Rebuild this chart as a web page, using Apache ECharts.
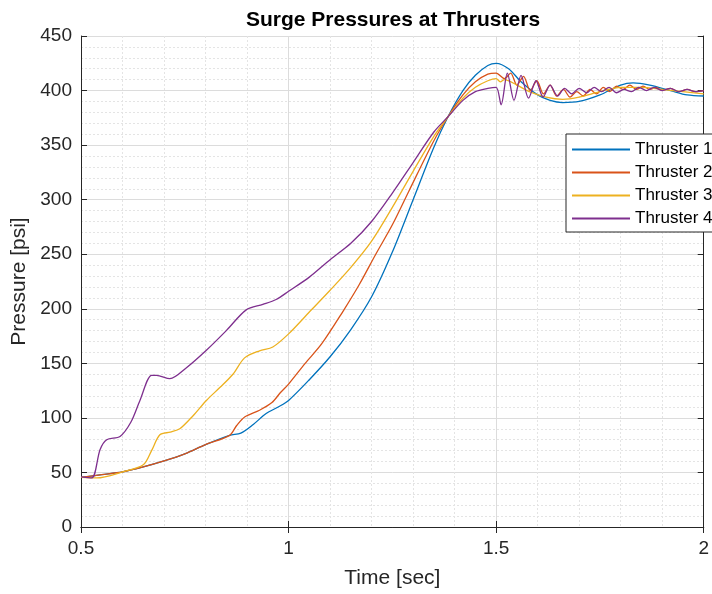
<!DOCTYPE html>
<html><head><meta charset="utf-8">
<script src="https://cdn.jsdelivr.net/npm/echarts@6/dist/echarts.min.js"></script>
<style>html,body{margin:0;padding:0;background:#fff}#c{width:712px;height:594px}</style>
</head><body><div id="c"></div>
<script>
const seriesNames = ['Thruster 1','Thruster 2','Thruster 3','Thruster 4'];
const xTickValues = [0.5, 1, 1.5, 2];
const yTickValues = [0, 50, 100, 150, 200, 250, 300, 350, 400, 450];

const t1 = [0.50,0.55,0.60,0.65,0.70,0.75,0.80,0.858,0.885,0.915,0.946,0.975,1.00,1.05,1.10,1.15,1.20,1.25,1.30,1.35,1.384,1.42,1.45,1.48,1.50,1.53,1.56,1.60,1.63,1.66,1.70,1.75,1.80,1.83,1.87,1.92,1.96,2.00];
const p1 = [45.5,48,50.5,55,60.5,67,75.5,84,86,94,104,110,116,135,156,181,211,252,300,348,376,400,414,423,425,420,408,396,391,389,390,396,405,407,405,400,396,395];

const t2 = [0.50,0.55,0.60,0.65,0.70,0.75,0.80,0.858,0.875,0.895,0.93,0.96,0.98,1.00,1.04,1.08,1.13,1.17,1.21,1.25,1.29,1.35,1.384,1.42,1.45,1.48,1.50,1.52,1.535,1.55,1.566,1.582,1.598,1.614,1.63,1.646,1.662,1.678,1.694,1.71,1.726,1.742,1.758,1.774,1.79,1.806,1.822,1.838,1.854,1.87,1.886,1.90,1.92,1.94,1.96,1.98,2.00];
const p2 = [45.5,48,50.5,55,60.5,67,75.5,84,93,101,107,114,123,131,150,168,197,222,250,277,308,354,376,396,408,415,416,411,416,405,413,400,409,397,405,395,401,394,399,395,401,397,403,399,404,401,405,401,404,401,403,400,402,399,401,399,400];

const t3 = [0.50,0.538,0.60,0.65,0.67,0.69,0.715,0.738,0.77,0.802,0.835,0.866,0.894,0.93,0.962,1.00,1.05,1.10,1.15,1.20,1.25,1.30,1.35,1.384,1.42,1.45,1.48,1.50,1.51,1.52,1.55,1.58,1.62,1.66,1.70,1.75,1.80,1.85,1.90,1.95,2.00];
const p3 = [45.5,45,50.5,57,70,84.5,87,90,102,116,128,140,155,161.5,165,177,197,217,238,262,293,326,358,376,393,403,409,411,408,410,405,399,394,392,394,399,403,403,401,399,397];

const t4 = [0.50,0.526,0.546,0.562,0.594,0.62,0.642,0.67,0.682,0.714,0.754,0.802,0.85,0.898,0.938,0.97,1.00,1.05,1.10,1.15,1.20,1.25,1.30,1.35,1.384,1.42,1.45,1.48,1.50,1.512,1.527,1.543,1.560,1.578,1.596,1.613,1.630,1.648,1.665,1.682,1.700,1.718,1.736,1.754,1.772,1.790,1.808,1.826,1.844,1.862,1.88,1.90,1.92,1.94,1.96,1.98,2.00];
const p4 = [46,45,71,80,83,96,116,139,139,136,146,162,180,199,204,208.5,216,229,245,260,280,306,334,362,376,391,399,402,403,387,416,391,414,393,409,394,405,395,402,397,402,398,403,399,403,398,401,399,403,400,403,400,402,399,401,399,400];

const colors = ['#0072BD','#D95319','#EDB120','#7E2F8E'];
const FONT = '"Liberation Sans", Arial, sans-serif';
const axisColor = '#262626';

function zip(t, p) { return t.map((v, i) => [v, p[i]]); }
const dataSets = [zip(t1,p1), zip(t2,p2), zip(t3,p3), zip(t4,p4)];

const chart = echarts.init(document.getElementById('c'), null, {renderer: 'canvas'});

const baseAxis = {
  axisLine: {show: true, lineStyle: {color: axisColor, width: 1}},
  axisTick: {show: true, inside: true, length: 6, lineStyle: {color: axisColor}},
  minorTick: {show: false, splitNumber: 5},
};

const option = {
  backgroundColor: '#fff',
  animation: false,
  textStyle: {fontFamily: FONT},
  graphic: [{
    type: 'text', x: 393, y: 20,
    style: {text: 'Surge Pressures at Thrusters', fontSize: 21, fontWeight: 'bold', fontFamily: FONT,
      fill: '#000', align: 'center', verticalAlign: 'middle'}
  }],
  grid: {left: 81, right: 7, top: 36, bottom: 63, containLabel: false},
  legend: {
    orient: 'vertical', left: 566, top: 134, padding: [7, 40, 5, 6], itemGap: 6,
    itemWidth: 58, itemHeight: 2, icon: 'rect',
    textStyle: {fontSize: 17, color: '#000', fontFamily: FONT, lineHeight: 17},
    borderColor: axisColor, borderWidth: 1, backgroundColor: '#fff',
    data: seriesNames
  },
  xAxis: [
    Object.assign({}, baseAxis, {
      type: 'value', min: xTickValues[0], max: xTickValues[xTickValues.length-1], interval: 0.5, position: 'bottom',
      axisLabel: {fontSize: 19, color: axisColor, margin: 12, fontFamily: FONT},
      splitLine: {show: true, lineStyle: {color: '#dcdcdc', width: 1}},
      minorSplitLine: {show: true, lineStyle: {color: '#e4e4e4', width: 1, type: [2, 2]}},
      name: 'Time [sec]', nameLocation: 'middle', nameGap: 41,
      nameTextStyle: {fontSize: 21, color: axisColor, fontFamily: FONT}
    }),
    Object.assign({}, baseAxis, {
      type: 'value', min: xTickValues[0], max: xTickValues[xTickValues.length-1], interval: 0.5, position: 'top',
      axisLabel: {show: false}, splitLine: {show: false}
    })
  ],
  yAxis: [
    Object.assign({}, baseAxis, {
      type: 'value', min: yTickValues[0], max: yTickValues[yTickValues.length-1], interval: 50, position: 'left',
      axisLabel: {fontSize: 19, color: axisColor, margin: 9, fontFamily: FONT},
      splitLine: {show: true, lineStyle: {color: '#dcdcdc', width: 1}},
      minorSplitLine: {show: true, lineStyle: {color: '#e4e4e4', width: 1, type: [2, 2]}},
      name: 'Pressure [psi]', nameLocation: 'middle', nameGap: 44,
      nameTextStyle: {fontSize: 21, color: axisColor, fontFamily: FONT}
    }),
    Object.assign({}, baseAxis, {
      type: 'value', min: yTickValues[0], max: yTickValues[yTickValues.length-1], interval: 50, position: 'right',
      axisLabel: {show: false}, splitLine: {show: false}
    })
  ],
  series: seriesNames.map((name, i) => ({
    name: name, type: 'line', xAxisIndex: 0, yAxisIndex: 0,
    data: dataSets[i], symbol: 'none', showSymbol: false, smooth: 0.3,
    lineStyle: {color: colors[i], width: 1.3}, itemStyle: {color: colors[i]}, color: colors[i]
  }))
};
chart.setOption(option);
</script></body></html>
